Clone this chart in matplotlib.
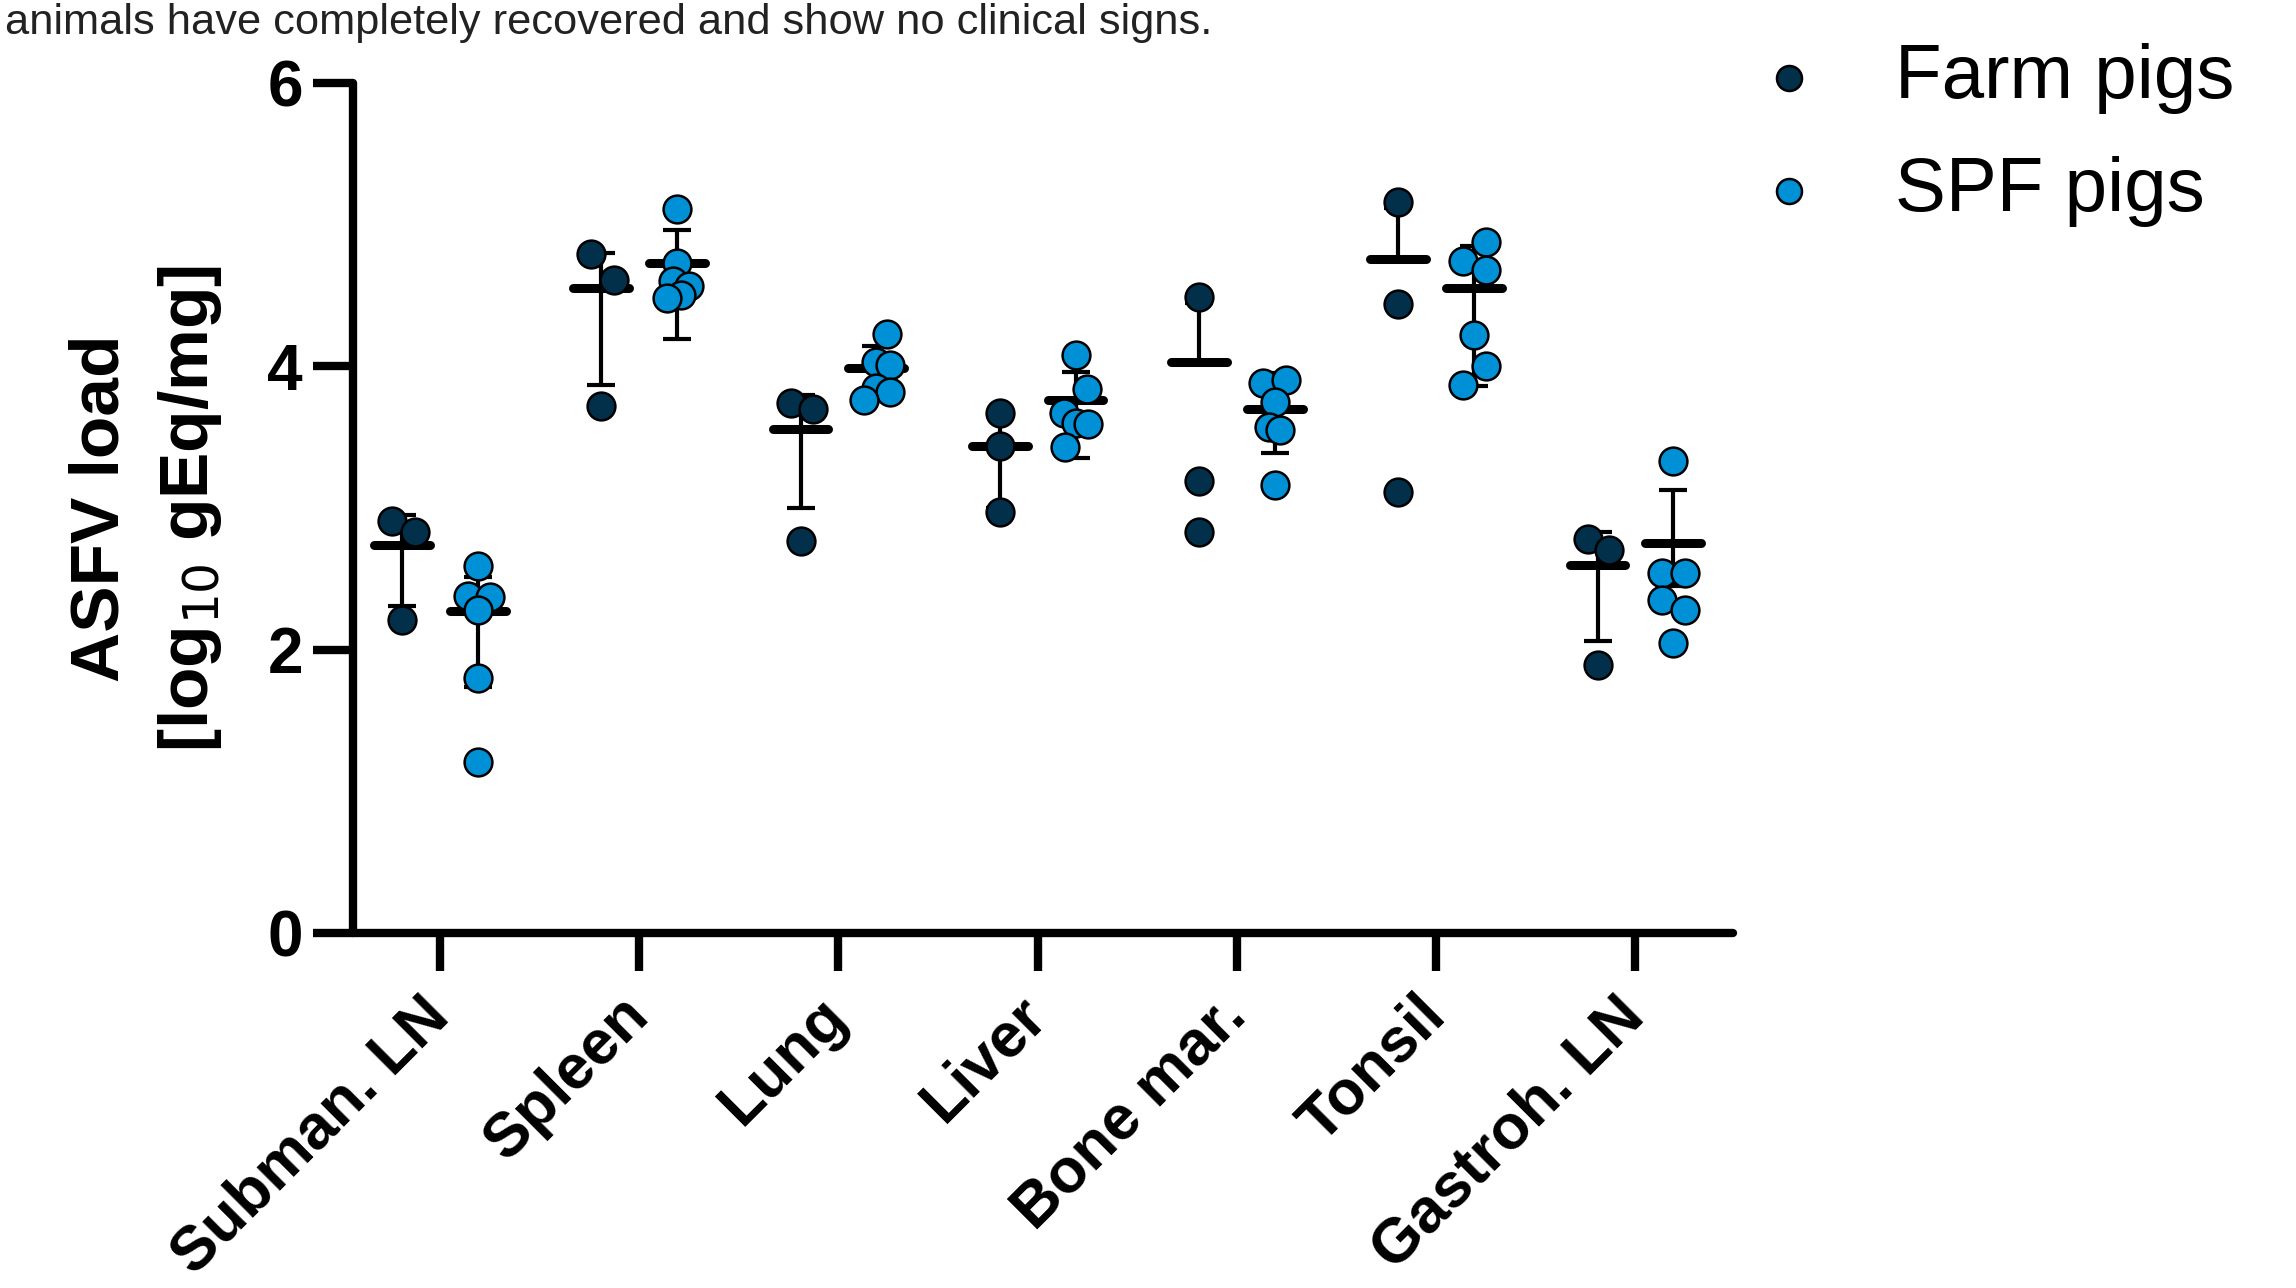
#ASFV load in tissues, farm pigs vs SPF pigs
import numpy as np
import matplotlib
matplotlib.use('Agg')
import matplotlib.pyplot as plt
from matplotlib import font_manager

# données
tissues = ['Subman. LN', 'Spleen', 'Lung', 'Liver', 'Bone mar.', 'Tonsil', 'Gastroh. LN']

farm_vals = [[2.91, 2.83, 2.21],
             [4.79, 4.61, 3.72],
             [3.74, 3.70, 2.77],
             [3.67, 3.44, 2.97],
             [4.49, 3.19, 2.83],
             [5.16, 4.44, 3.11],
             [2.78, 2.70, 1.89]]
farm_jit = [[-0.05, 0.065, 0.0],
            [-0.05, 0.065, 0.0],
            [-0.05, 0.06, 0.0],
            [0.0, 0.0, 0.0],
            [0.0, 0.0, 0.0],
            [0.0, 0.0, 0.0],
            [-0.05, 0.06, 0.0]]
farm_mean = [2.74, 4.55, 3.56, 3.44, 4.03, 4.76, 2.60]
farm_hi = [2.95, 4.80, 3.80, 3.66, 4.45, 5.12, 2.83]
farm_lo = [2.31, 3.87, 3.00, 3.00, 4.03, 4.76, 2.06]

spf_vals = [[2.59, 2.38, 2.37, 2.28, 1.80, 1.21],
            [5.11, 4.73, 4.60, 4.57, 4.50, 4.48],
            [4.23, 4.03, 4.01, 3.85, 3.82, 3.76],
            [4.08, 3.84, 3.67, 3.60, 3.59, 3.43],
            [3.88, 3.90, 3.75, 3.57, 3.55, 3.16],
            [4.88, 4.74, 4.68, 4.22, 4.00, 3.87],
            [3.33, 2.54, 2.54, 2.35, 2.28, 2.05]]
spf_jit = [[0.0, -0.05, 0.06, 0.0, 0.0, 0.0],
           [0.0, 0.0, -0.02, 0.06, 0.02, -0.05],
           [0.055, 0.0, 0.07, 0.0, 0.07, -0.06],
           [0.0, 0.06, -0.06, 0.0, 0.065, -0.055],
           [-0.06, 0.055, 0.0, -0.03, 0.025, 0.0],
           [0.06, -0.055, 0.06, 0.0, 0.06, -0.055],
           [0.0, -0.055, 0.06, -0.055, 0.06, 0.0]]
spf_mean = [2.27, 4.73, 3.99, 3.76, 3.70, 4.55, 2.75]
spf_hi = [2.51, 4.96, 4.14, 3.96, 3.95, 4.85, 3.13]
spf_lo = [1.74, 4.19, 3.84, 3.35, 3.39, 3.86, 2.45]

c_farm = '#02304b'
c_spf = '#0090d6'

names = {f.name for f in font_manager.fontManager.ttflist}
narrow = 'Liberation Sans Narrow' if 'Liberation Sans Narrow' in names else 'Liberation Sans'
plt.rcParams['font.family'] = ['Liberation Sans', 'DejaVu Sans']

fig = plt.figure(figsize=(22.96, 12.88), dpi=100)
ax = fig.add_axes([0.1537, 0.2756, 0.6011, 0.66])

pos = np.arange(len(tissues))
off = 0.19

def groupe(sign, vals, jit, mean, hi, lo, col, lab):
    for i in range(len(tissues)):
        xc = pos[i] + sign * off
        # barres d'erreur
        ax.errorbar([xc], [mean[i]], yerr=[[mean[i] - lo[i]], [hi[i] - mean[i]]],
                    fmt='none', ecolor='k', elinewidth=3, capsize=10, capthick=3, zorder=2)
        # moyenne
        ax.plot([xc - 0.14, xc + 0.14], [mean[i], mean[i]], c='k', lw=6.5,
                solid_capstyle='round', zorder=2)
        xs = xc + np.array(jit[i])
        ax.scatter(xs, vals[i], s=400, c=col, edgecolors='k', linewidths=1.8, zorder=3,
                   label=lab if i == 0 else None)

groupe(-1, farm_vals, farm_jit, farm_mean, farm_hi, farm_lo, c_farm, 'Farm pigs')
groupe(1, spf_vals, spf_jit, spf_mean, spf_hi, spf_lo, c_spf, 'SPF pigs')

ax.set_xlim(-0.437, 6.49)
ax.set_ylim(0, 6)
ax.set_yticks([0, 2, 4, 6])
ax.set_xticks(pos)
ax.set_xticklabels(tissues, rotation=45, ha='right', va='center', rotation_mode='anchor',
                   fontsize=45, fontweight='bold')
for t in ax.get_yticklabels():
    t.set_fontweight('bold')
ax.tick_params(axis='y', labelsize=46, length=29, width=6, pad=7)
ax.tick_params(axis='x', length=27, width=6, pad=26)
for s in ['top', 'right']:
    ax.spines[s].set_visible(False)
for s in ['left', 'bottom']:
    ax.spines[s].set_linewidth(6)
    ax.spines[s].set_capstyle('round')

ax.set_ylabel('ASFV load\n[log$_{10}$ gEq/mg]', fontsize=50, fontweight='bold', va='center',
              linespacing=1.45)
ax.yaxis.set_label_coords(-0.150, 0.5)

leg = ax.legend(loc='upper left', bbox_to_anchor=(0.746, 0.9666), bbox_transform=fig.transFigure,
                frameon=False, fontsize=55, handlelength=2, handletextpad=0.39,
                borderpad=0, borderaxespad=0, labelspacing=0.55, markerscale=0.9)

fig.text(0.002, 0.998, 'animals have completely recovered and show no clinical signs.',
         fontsize=31.2, family=[narrow, 'DejaVu Sans'], color='#222222', ha='left', va='top')

fig.savefig('out.png', dpi=100)
